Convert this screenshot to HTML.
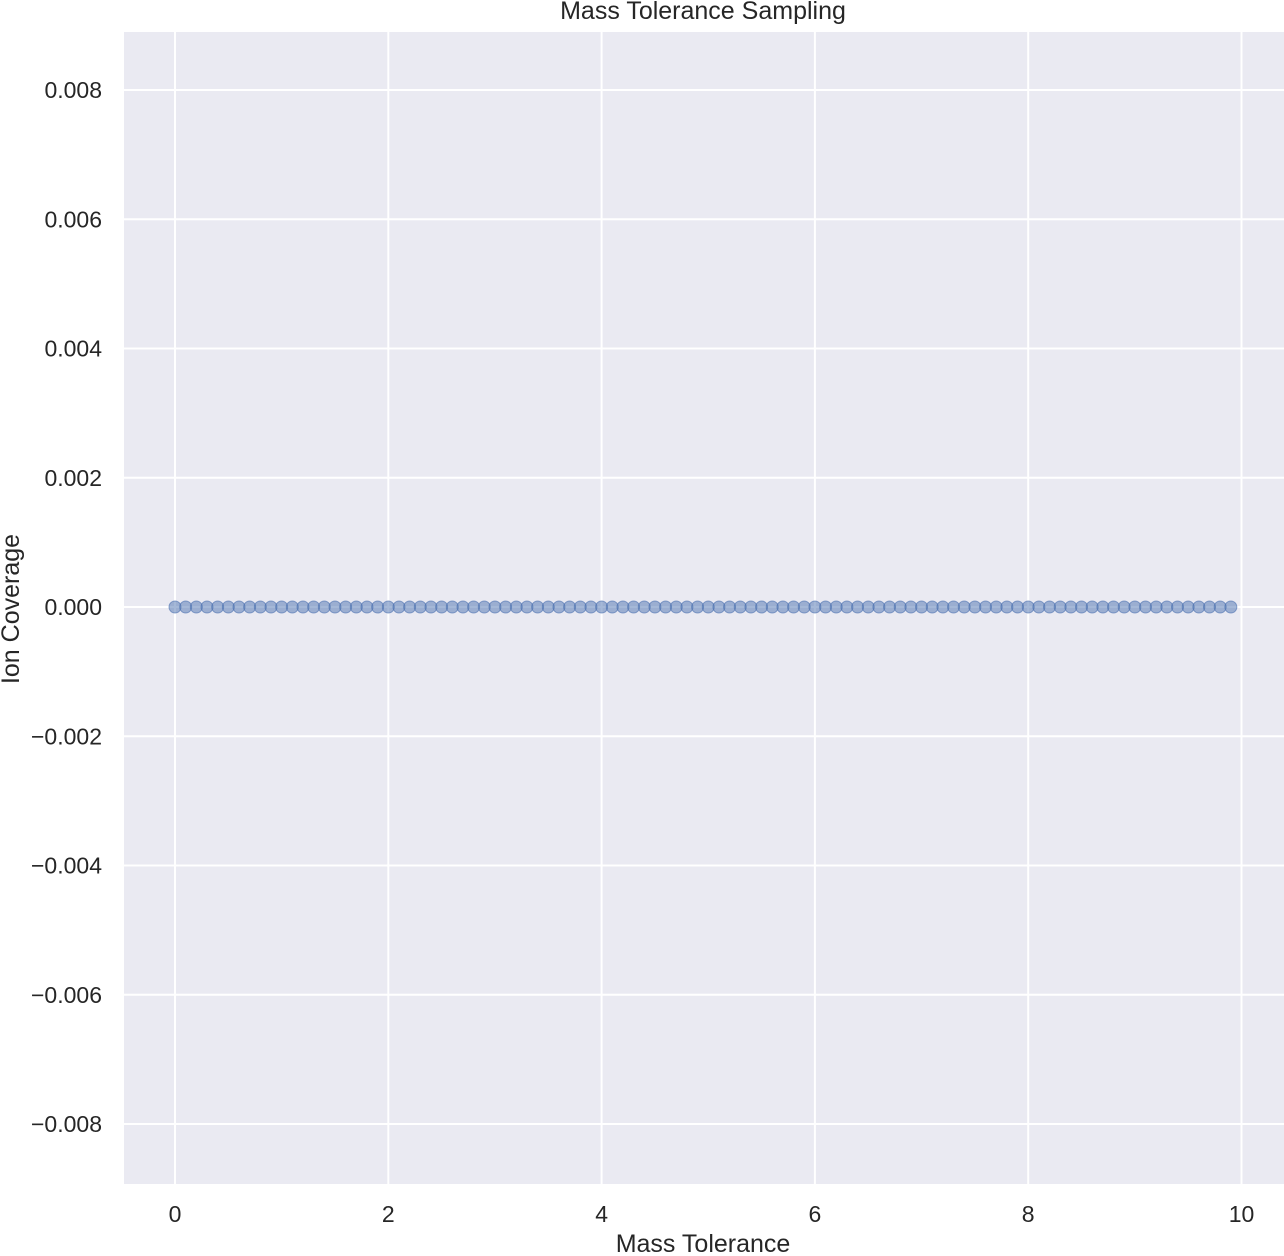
<!DOCTYPE html>
<html><head><meta charset="utf-8">
<style>
html,body{margin:0;padding:0;background:#fff;}
svg{display:block;font-family:"Liberation Sans",Arial,sans-serif;}
</style></head>
<body>
<svg id="chart" width="1284" height="1256" viewBox="0 0 1284 1256">
  <rect x="124" y="32" width="1160" height="1152" fill="#eaeaf2"/>
  <g id="grid"></g>
  <g id="xticks"></g>
  <g id="yticks"></g>
  <g id="points"></g>
  <text x="703" y="19" text-anchor="middle" font-size="25" fill="#262626">Mass Tolerance Sampling</text>
  <text x="703" y="1252" text-anchor="middle" font-size="25" fill="#262626">Mass Tolerance</text>
  <text transform="translate(19,609) rotate(-90)" text-anchor="middle" font-size="25" fill="#262626">Ion Coverage</text>
</svg>
<script>
const xTicks = [0, 2, 4, 6, 8, 10];
const xTickLabels = ["0", "2", "4", "6", "8", "10"];
const yTicks = [0.008, 0.006, 0.004, 0.002, 0, -0.002, -0.004, -0.006, -0.008];
const yTickLabels = ["0.008", "0.006", "0.004", "0.002", "0.000", "\u22120.002", "\u22120.004", "\u22120.006", "\u22120.008"];
const massTolerance = [0.0,0.1,0.2,0.3,0.4,0.5,0.6,0.7,0.8,0.9,1.0,1.1,1.2,1.3,1.4,1.5,1.6,1.7,1.8,1.9,2.0,2.1,2.2,2.3,2.4,2.5,2.6,2.7,2.8,2.9,3.0,3.1,3.2,3.3,3.4,3.5,3.6,3.7,3.8,3.9,4.0,4.1,4.2,4.3,4.4,4.5,4.6,4.7,4.8,4.9,5.0,5.1,5.2,5.3,5.4,5.5,5.6,5.7,5.8,5.9,6.0,6.1,6.2,6.3,6.4,6.5,6.6,6.7,6.8,6.9,7.0,7.1,7.2,7.3,7.4,7.5,7.6,7.7,7.8,7.9,8.0,8.1,8.2,8.3,8.4,8.5,8.6,8.7,8.8,8.9,9.0,9.1,9.2,9.3,9.4,9.5,9.6,9.7,9.8,9.9];
const ionCoverage = [0,0,0,0,0,0,0,0,0,0,0,0,0,0,0,0,0,0,0,0,0,0,0,0,0,0,0,0,0,0,0,0,0,0,0,0,0,0,0,0,0,0,0,0,0,0,0,0,0,0,0,0,0,0,0,0,0,0,0,0,0,0,0,0,0,0,0,0,0,0,0,0,0,0,0,0,0,0,0,0,0,0,0,0,0,0,0,0,0,0,0,0,0,0,0,0,0,0,0,0];

const NS = "http://www.w3.org/2000/svg";
function xScale(v){ return 175 + v * 106.65; }
function yScale(v){ return 607 - v * 64625; }
const grid = document.getElementById('grid');
const xt = document.getElementById('xticks');
const yt = document.getElementById('yticks');
const pts = document.getElementById('points');

xTicks.forEach((v, i) => {
  const x = xScale(v);
  const l = document.createElementNS(NS, 'line');
  l.setAttribute('x1', x); l.setAttribute('x2', x);
  l.setAttribute('y1', 32); l.setAttribute('y2', 1184);
  l.setAttribute('stroke', '#fff'); l.setAttribute('stroke-width', '2');
  
  
  grid.appendChild(l);
  const t = document.createElementNS(NS, 'text');
  t.setAttribute('x', x); t.setAttribute('y', 1222);
  t.setAttribute('text-anchor', 'middle'); t.setAttribute('font-size', '23'); t.setAttribute('fill', '#262626');
  t.textContent = xTickLabels[i];
  
  
  xt.appendChild(t);
});
yTicks.forEach((v, i) => {
  const y = yScale(v);
  const l = document.createElementNS(NS, 'line');
  l.setAttribute('x1', 124); l.setAttribute('x2', 1284);
  l.setAttribute('y1', y); l.setAttribute('y2', y);
  l.setAttribute('stroke', '#fff'); l.setAttribute('stroke-width', '2');
  
  
  grid.appendChild(l);
  const t = document.createElementNS(NS, 'text');
  t.setAttribute('x', 102); t.setAttribute('y', y + 8);
  t.setAttribute('text-anchor', 'end'); t.setAttribute('font-size', '23'); t.setAttribute('fill', '#262626');
  t.textContent = yTickLabels[i];
  
  
  yt.appendChild(t);
});
massTolerance.forEach((v, i) => {
  const c = document.createElementNS(NS, 'circle');
  c.setAttribute('cx', xScale(v)); c.setAttribute('cy', yScale(ionCoverage[i]));
  c.setAttribute('r', '6');
  c.setAttribute('fill', '#4c72b0'); c.setAttribute('fill-opacity', '0.5');
  c.setAttribute('stroke', '#4c72b0'); c.setAttribute('stroke-opacity', '0.6'); c.setAttribute('stroke-width', '1');
  
  
  pts.appendChild(c);
});
</script>
</body></html>
